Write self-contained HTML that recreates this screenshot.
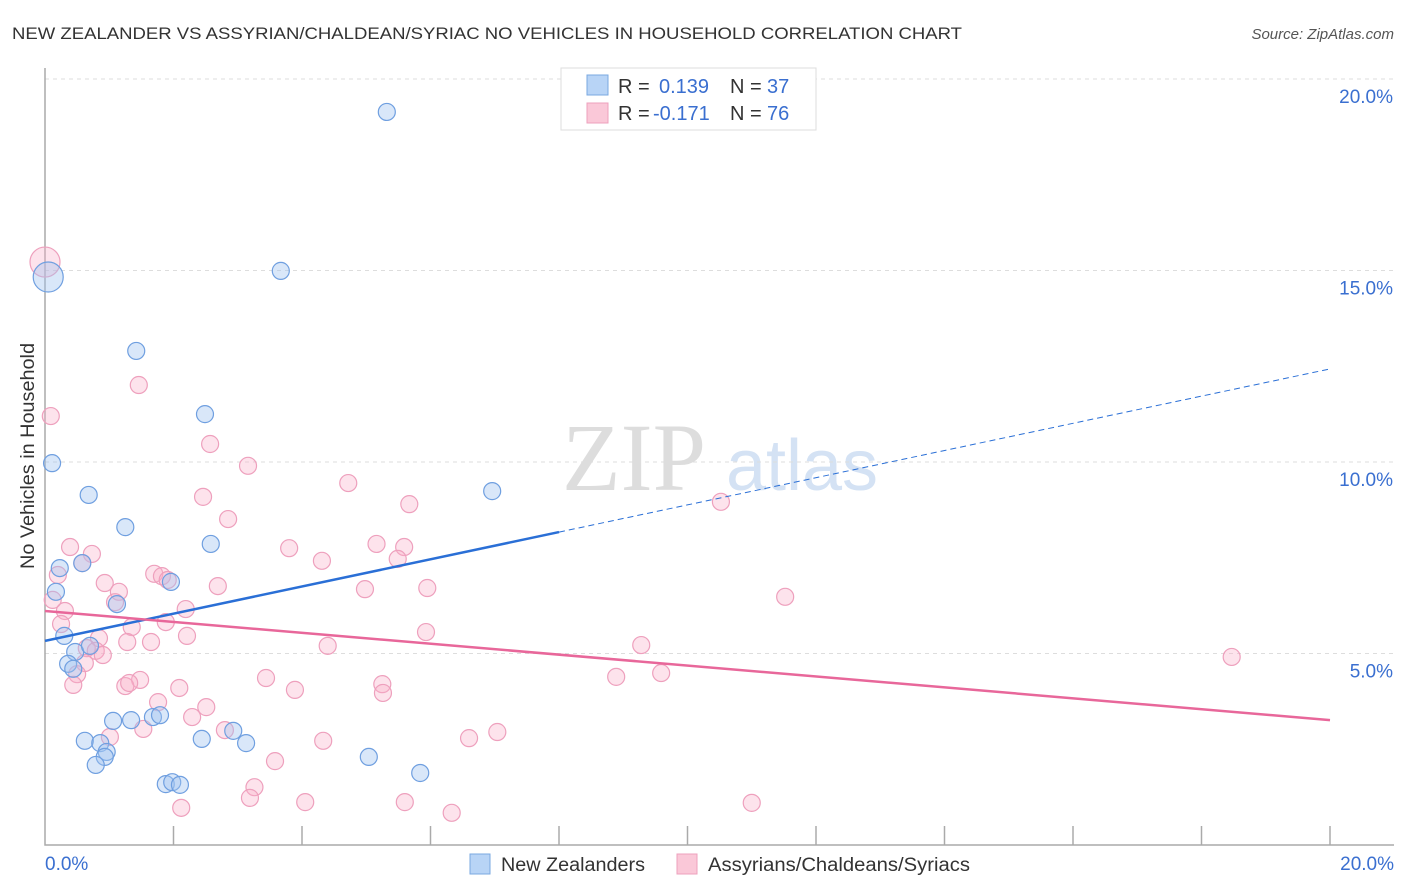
<!DOCTYPE html>
<html><head><meta charset="utf-8"><style>
body{margin:0;background:#fff;font-family:"Liberation Sans",sans-serif}
svg{display:block}
</style></head><body>
<svg id="c" width="1406" height="892" xmlns="http://www.w3.org/2000/svg">
<text x="12" y="39" font-size="17" fill="#333" textLength="950" lengthAdjust="spacingAndGlyphs">NEW ZEALANDER VS ASSYRIAN/CHALDEAN/SYRIAC NO VEHICLES IN HOUSEHOLD CORRELATION CHART</text>
<text x="1394" y="39" font-size="15" fill="#555" font-style="italic" text-anchor="end">Source: ZipAtlas.com</text>
<text transform="translate(34,456) rotate(-90)" font-size="19" fill="#333" text-anchor="middle" textLength="226" lengthAdjust="spacingAndGlyphs">No Vehicles in Household</text>
<g><text x="634" y="490" font-size="96" fill="#ddd" font-family="Liberation Serif" text-anchor="middle">ZIP</text><text x="802" y="490" font-size="72" fill="#d4e2f4" text-anchor="middle">atlas</text></g>
<g id="grid"></g><g id="axes"></g><g id="pts"></g><g id="lines"></g>
<g>
<rect x="561" y="68" width="255" height="62" fill="#fff" stroke="#ddd"/>
<rect x="587" y="75" width="21" height="20" fill="#b8d4f6" stroke="#7aa8e0"/>
<rect x="587" y="103" width="21" height="20" fill="#fac8d8" stroke="#eea0bd"/>
<text x="618" y="93" font-size="20" fill="#333">R =</text><text x="659" y="93" font-size="20" fill="#3a6fd0">0.139</text>
<text x="730" y="93" font-size="20" fill="#333">N =</text><text x="767" y="93" font-size="20" fill="#3a6fd0">37</text>
<text x="618" y="120" font-size="20" fill="#333">R =</text><text x="653" y="120" font-size="20" fill="#3a6fd0">-0.171</text>
<text x="730" y="120" font-size="20" fill="#333">N =</text><text x="767" y="120" font-size="20" fill="#3a6fd0">76</text>
</g>
<g>
<rect x="470" y="854" width="20" height="20" fill="#b8d4f6" stroke="#7aa8e0"/>
<text x="501" y="871" font-size="19" fill="#333" textLength="144" lengthAdjust="spacingAndGlyphs">New Zealanders</text>
<rect x="677" y="854" width="20" height="20" fill="#fac8d8" stroke="#eea0bd"/>
<text x="708" y="871" font-size="19" fill="#333" textLength="262" lengthAdjust="spacingAndGlyphs">Assyrians/Chaldeans/Syriacs</text>
</g>
</svg>
<script>
const yTicks=[5,10,15,20];
const yTickLabels=["5.0%","10.0%","15.0%","20.0%"];
const xTicks=[0,2,4,6,8,10,12,14,16,18,20];
const blueX=[5.32,3.67,0.05,1.42,2.49,0.11,0.68,6.96,1.25,2.58,0.23,0.58,1.96,0.17,1.12,0.30,0.47,0.70,0.36,0.44,1.06,1.34,1.68,1.79,0.62,0.86,0.96,0.93,0.79,2.44,2.93,3.13,5.04,5.84,1.88,1.98,2.10];
const blueY=[19.14,14.99,14.83,12.9,11.25,9.97,9.14,9.24,8.30,7.86,7.23,7.36,6.87,6.61,6.29,5.46,5.04,5.20,4.73,4.60,3.24,3.26,3.34,3.39,2.72,2.66,2.43,2.30,2.09,2.77,2.98,2.66,2.30,1.88,1.59,1.64,1.57];
const blueBig=[0,0,1,0,0,0,0,0,0,0,0,0,0,0,0,0,0,0,0,0,0,0,0,0,0,0,0,0,0,0,0,0,0,0,0,0,0];
const pinkX=[0,0.09,1.46,2.57,3.16,2.46,4.72,5.67,10.52,2.85,0.39,0.73,3.80,4.31,5.16,5.59,5.49,0.20,0.58,1.70,1.82,1.91,0.93,2.69,1.15,4.98,5.95,11.52,0.12,0.31,1.09,2.19,0.25,1.35,1.88,5.93,0.84,1.28,1.65,2.21,4.40,9.28,18.47,0.65,0.79,0.90,0.62,0.50,0.44,1.48,1.25,1.31,2.09,3.44,3.89,5.25,5.26,8.89,9.59,1.76,2.51,2.29,1.53,2.80,1.01,4.33,6.60,7.04,3.58,3.26,3.19,4.05,5.60,2.12,6.33,11.0];
const pinkY=[15.22,11.2,12.01,10.47,9.9,9.09,9.45,8.9,8.96,8.51,7.78,7.60,7.75,7.42,7.86,7.78,7.47,7.05,7.36,7.08,7.02,6.92,6.84,6.76,6.61,6.68,6.71,6.48,6.40,6.11,6.34,6.16,5.77,5.69,5.82,5.56,5.40,5.30,5.30,5.46,5.20,5.22,4.91,5.14,5.07,4.96,4.75,4.46,4.18,4.31,4.15,4.23,4.10,4.36,4.05,4.20,3.97,4.39,4.49,3.73,3.60,3.34,3.03,3.00,2.82,2.72,2.79,2.95,2.19,1.51,1.23,1.12,1.12,0.97,0.84,1.10];
const blueTrend=[5.33,12.43];
const pinkTrend=[6.11,3.26];
const blueSolidEnd=8;
const X0=45,X1=1330,Y0=845,Y1=79;
const sx=v=>X0+(X1-X0)*v/20, sy=v=>Y0-(Y0-Y1)*v/20;
const NS="http://www.w3.org/2000/svg";
function mk(p,t,a){const e=document.createElementNS(NS,t);for(const k in a)e.setAttribute(k,a[k]);document.getElementById(p).appendChild(e);return e;}
yTicks.forEach((v,i)=>{
 const g=mk('grid','line',{x1:X0,x2:1394,y1:sy(v),y2:sy(v),stroke:'#ddd','stroke-dasharray':'4,4'});
 
 
 const t=mk('grid','text',{x:1393,y:sy(v)+24,'font-size':19,fill:'#3a6fd0','text-anchor':'end'});
 t.textContent=yTickLabels[i];
 
 
});
const ax=mk('axes','path',{d:`M${X0},68V${Y0}H1394`,stroke:'#aaa',fill:'none','stroke-width':1.5});


xTicks.forEach(v=>{if(v===0)return;
 const l=mk('axes','line',{x1:sx(v),x2:sx(v),y1:Y0-19,y2:Y0,stroke:'#aaa','stroke-width':1.5});
 
 
});
const xl0=mk('axes','text',{x:45,y:870,'font-size':19,fill:'#3a6fd0'});xl0.textContent='0.0%';


const xl1=mk('axes','text',{x:1394,y:870,'font-size':19,fill:'#3a6fd0','text-anchor':'end'});xl1.textContent='20.0%';


pinkX.forEach((x,i)=>{const c=mk('pts','circle',{cx:sx(x),cy:sy(pinkY[i]),r:i===0?15:8.5,fill:'rgba(248,175,200,0.35)',stroke:'#eea0bd','stroke-width':1.2});
 
 });
blueX.forEach((x,i)=>{const c=mk('pts','circle',{cx:sx(x),cy:sy(blueY[i]),r:blueBig[i]?15:8.5,fill:'rgba(160,196,240,0.4)',stroke:'#6f9fe0','stroke-width':1.2});
 
 });
const bAt=x=>blueTrend[0]+(blueTrend[1]-blueTrend[0])*x/20;
const l1=mk('lines','line',{x1:sx(0),y1:sy(bAt(0)),x2:sx(blueSolidEnd),y2:sy(bAt(blueSolidEnd)),stroke:'#2a6fd6','stroke-width':2.5});


const l2=mk('lines','line',{x1:sx(blueSolidEnd),y1:sy(bAt(blueSolidEnd)),x2:sx(20),y2:sy(bAt(20)),stroke:'#2a6fd6','stroke-width':1,'stroke-dasharray':'6,4'});


const l3=mk('lines','line',{x1:sx(0),y1:sy(pinkTrend[0]),x2:sx(20),y2:sy(pinkTrend[1]),stroke:'#e8679a','stroke-width':2.5});


</script>
</body></html>
